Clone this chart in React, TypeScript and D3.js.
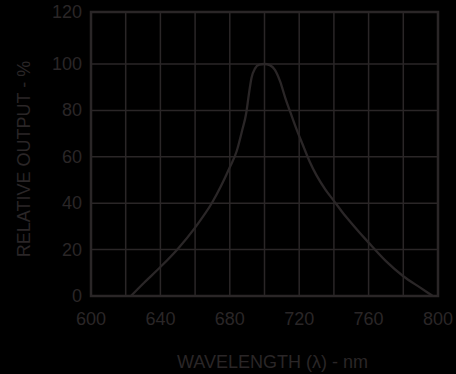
import React from "react";
import * as d3 from "d3";

const wavelengths = [623, 630, 640, 650, 660, 670, 675, 680, 684, 687, 689.5, 691, 692.5, 694.5, 697, 700, 703, 706, 709, 712, 715, 718, 722, 726, 730, 735, 740, 745, 750, 760, 770, 780, 790, 797];
const outputs = [0, 5.3, 12.5, 20.3, 29.5, 40.5, 47.5, 55.5, 62.5, 71, 79, 87, 94, 98, 99.7, 100, 99.5, 97.5, 92.5, 85.3, 79, 72.8, 65.3, 58, 52, 46, 41, 36, 31.5, 23, 15, 8.5, 3.5, 0];
const xTicks = [600, 640, 680, 720, 760, 800];
const xGrid = [620, 640, 660, 680, 700, 720, 740, 760, 780];
const yTicks = [0, 20, 40, 60, 80, 100, 120];
const yGrid = [20, 40, 60, 80, 100];
const xTitle = "WAVELENGTH (λ) - nm";
const yTitle = "RELATIVE OUTPUT - %";

const W = 456;
const H = 374;
const left = 91;
const right = 438;
const top = 12;
const bottom = 296;
const y100 = 64;
const ink = "#2a2627";
const font = "'Liberation Sans', Arial, Helvetica, sans-serif";
const fs = 18;

export default function App() {
  const x = d3.scaleLinear().domain([600, 800]).range([left, right]);
  const y = d3.scaleLinear().domain([0, 100, 120]).range([bottom, y100, top]);
  const pts: [number, number][] = wavelengths.map((w, i) => [w, outputs[i]]);
  const line = d3
    .line<[number, number]>()
    .x((d) => x(d[0]))
    .y((d) => y(d[1]))
    .curve(d3.curveMonotoneX);

  return (
    <svg
      width={W}
      height={H}
      style={{ position: "fixed", left: 0, top: 0, display: "block", background: "#000" }}
    >
      <rect x={0} y={0} width={W} height={H} fill="#000" />
      {xGrid.map((v) => (
        <line key={"xg" + v} x1={x(v)} x2={x(v)} y1={y(0)} y2={y(120)} stroke={ink} strokeWidth={1.5} />
      ))}
      {yGrid.map((v) => (
        <line key={"yg" + v} x1={x(600)} x2={x(800)} y1={y(v)} y2={y(v)} stroke={ink} strokeWidth={1.5} />
      ))}
      <rect
        x={x(600)}
        y={y(120)}
        width={x(800) - x(600)}
        height={y(0) - y(120)}
        fill="none"
        stroke={ink}
        strokeWidth={2.5}
      />
      <path d={line(pts) || ""} fill="none" stroke={ink} strokeWidth={2.3} strokeLinejoin="round" />
      {yTicks.map((v) => (
        <text
          key={"yt" + v}
          x={x(600) - 9}
          y={y(v)}
          textAnchor="end"
          dominantBaseline="central"
          fontFamily={font}
          fontSize={fs}
          fill={ink}
        >
          {v}
        </text>
      ))}
      {xTicks.map((v) => (
        <text
          key={"xt" + v}
          x={x(v)}
          y={y(0) + 23}
          textAnchor="middle"
          dominantBaseline="central"
          fontFamily={font}
          fontSize={fs}
          fill={ink}
        >
          {v}
        </text>
      ))}
      <text
        x={272.5}
        y={362}
        textAnchor="middle"
        dominantBaseline="central"
        fontFamily={font}
        fontSize={fs}
        fill={ink}
      >
        {xTitle}
      </text>
      <text
        transform={`translate(23.5,159) rotate(-90)`}
        textAnchor="middle"
        dominantBaseline="central"
        fontFamily={font}
        fontSize={fs}
        fill={ink}
      >
        {yTitle}
      </text>
    </svg>
  );
}
